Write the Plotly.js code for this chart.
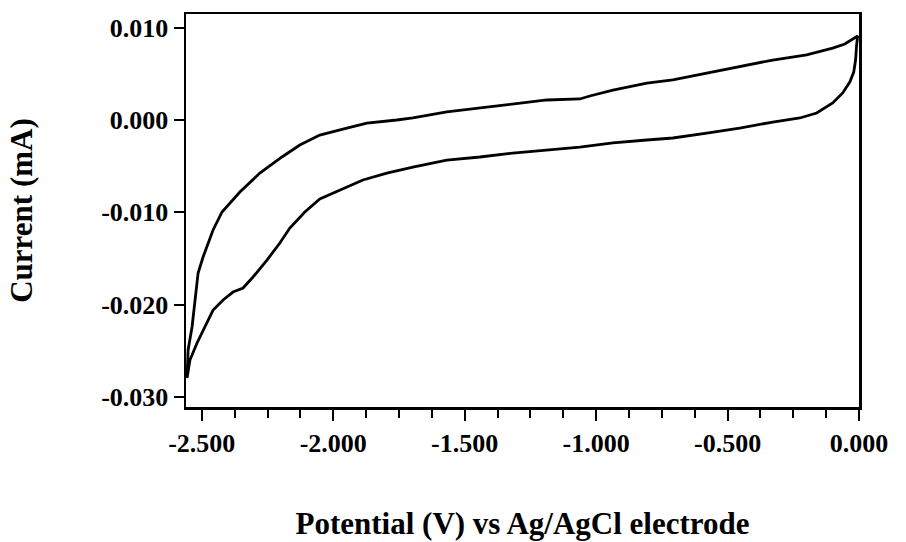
<!DOCTYPE html>
<html>
<head>
<meta charset="utf-8">
<script src="https://cdn.plot.ly/plotly-3.0.1.min.js"></script>
<style>
  html, body { margin: 0; padding: 0; background: #ffffff; }
  #chart { width: 906px; height: 542px; }
</style>
</head>
<body>
<div id="chart"></div>
<script>
// Cyclic voltammogram
// Forward (upper) branch: potential in V vs Ag/AgCl, current in mA
const upperPotential = [-2.556, -2.552, -2.537, -2.526, -2.514, -2.495, -2.457, -2.423, -2.355, -2.279,
  -2.195, -2.127, -2.051, -1.948, -1.872, -1.758, -1.697, -1.568, -1.442, -1.317,
  -1.187, -1.062, -1.024, -0.936, -0.807, -0.708, -0.579, -0.454, -0.328, -0.199,
  -0.100, -0.054, -0.016, -0.005];
const upperCurrent = [-0.02796, -0.02492, -0.02243, -0.01950, -0.01658, -0.01484, -0.01191, -0.00996, -0.00780, -0.00574,
  -0.00400, -0.00270, -0.00162, -0.00086, -0.00032, 0.00001, 0.00023, 0.00088, 0.00131, 0.00174,
  0.00218, 0.00229, 0.00261, 0.00326, 0.00402, 0.00435, 0.00510, 0.00575, 0.00651, 0.00706,
  0.00781, 0.00825, 0.00890, 0.00912];

// Reverse (lower) branch, from the right vertex back to the left
const lowerPotential = [-0.009, -0.013, -0.020, -0.035, -0.062, -0.100, -0.161, -0.225, -0.328, -0.454,
  -0.579, -0.708, -0.807, -0.936, -1.062, -1.187, -1.317, -1.442, -1.568, -1.697,
  -1.796, -1.887, -1.974, -2.051, -2.108, -2.165, -2.203, -2.252, -2.305, -2.343,
  -2.381, -2.419, -2.457, -2.488, -2.518, -2.545, -2.556];
const lowerCurrent = [0.00814, 0.00651, 0.00521, 0.00413, 0.00294, 0.00185, 0.00077, 0.00023, -0.00021, -0.00086,
  -0.00140, -0.00194, -0.00216, -0.00248, -0.00292, -0.00324, -0.00357, -0.00400, -0.00433, -0.00509,
  -0.00574, -0.00649, -0.00758, -0.00855, -0.00996, -0.01170, -0.01332, -0.01517, -0.01701, -0.01820,
  -0.01864, -0.01950, -0.02059, -0.02243, -0.02416, -0.02601, -0.02796];

// Tick labels
const xTickValues = [-2.5, -2.0, -1.5, -1.0, -0.5, 0.0];
const xTickLabels = ["-2.500", "-2.000", "-1.500", "-1.000", "-0.500", "0.000"];
const yTickValues = [0.010, 0.000, -0.010, -0.020, -0.030];
const yTickLabels = ["0.010", "0.000", "-0.010", "-0.020", "-0.030"];

const xTitle = "Potential (V) vs Ag/AgCl electrode";
const yTitle = "Current (mA)";

const serif = "Liberation Serif, 'Times New Roman', Times, serif";

const trace = {
  type: "scatter",
  mode: "lines",
  x: upperPotential.concat(lowerPotential),
  y: upperCurrent.concat(lowerCurrent),
  line: { color: "#000000", width: 2.8 },
  hoverinfo: "skip",
  showlegend: false
};

const layout = {
  width: 906,
  height: 542,
  margin: { l: 186, r: 47, t: 14, b: 135 },
  paper_bgcolor: "#ffffff",
  plot_bgcolor: "#ffffff",
  showlegend: false,
  xaxis: {
    range: [-2.56, 0.0],
    tickmode: "array",
    tickvals: xTickValues,
    ticktext: xTickLabels,
    ticks: "outside",
    ticklen: 11,
    tickwidth: 2,
    tickcolor: "#000000",
    minor: { tickmode: "linear", tick0: 0, dtick: 0.125, ticks: "outside", ticklen: 8, tickwidth: 2, tickcolor: "#000000", showgrid: false },
    showline: true,
    linecolor: "#000000",
    linewidth: 2.5,
    mirror: true,
    showgrid: false,
    zeroline: false,
    automargin: false,
    tickfont: { family: serif, size: 26, color: "#000000", weight: "bold" },
    title: {
      text: xTitle,
      font: { family: serif, size: 31, color: "#000000", weight: "bold" },
      standoff: 56
    }
  },
  yaxis: {
    range: [-0.0311, 0.0115],
    tickmode: "array",
    tickvals: yTickValues,
    ticktext: yTickLabels,
    ticks: "outside",
    ticklen: 10,
    tickwidth: 2,
    tickcolor: "#000000",
    showline: true,
    linecolor: "#000000",
    linewidth: 2.5,
    mirror: true,
    showgrid: false,
    zeroline: false,
    automargin: false,
    tickfont: { family: serif, size: 26, color: "#000000", weight: "bold" },
    title: {
      text: yTitle,
      font: { family: serif, size: 31, color: "#000000", weight: "bold" },
      standoff: 60
    }
  }
};

Plotly.newPlot("chart", [trace], layout, { displayModeBar: false, staticPlot: true });
</script>
</body>
</html>
